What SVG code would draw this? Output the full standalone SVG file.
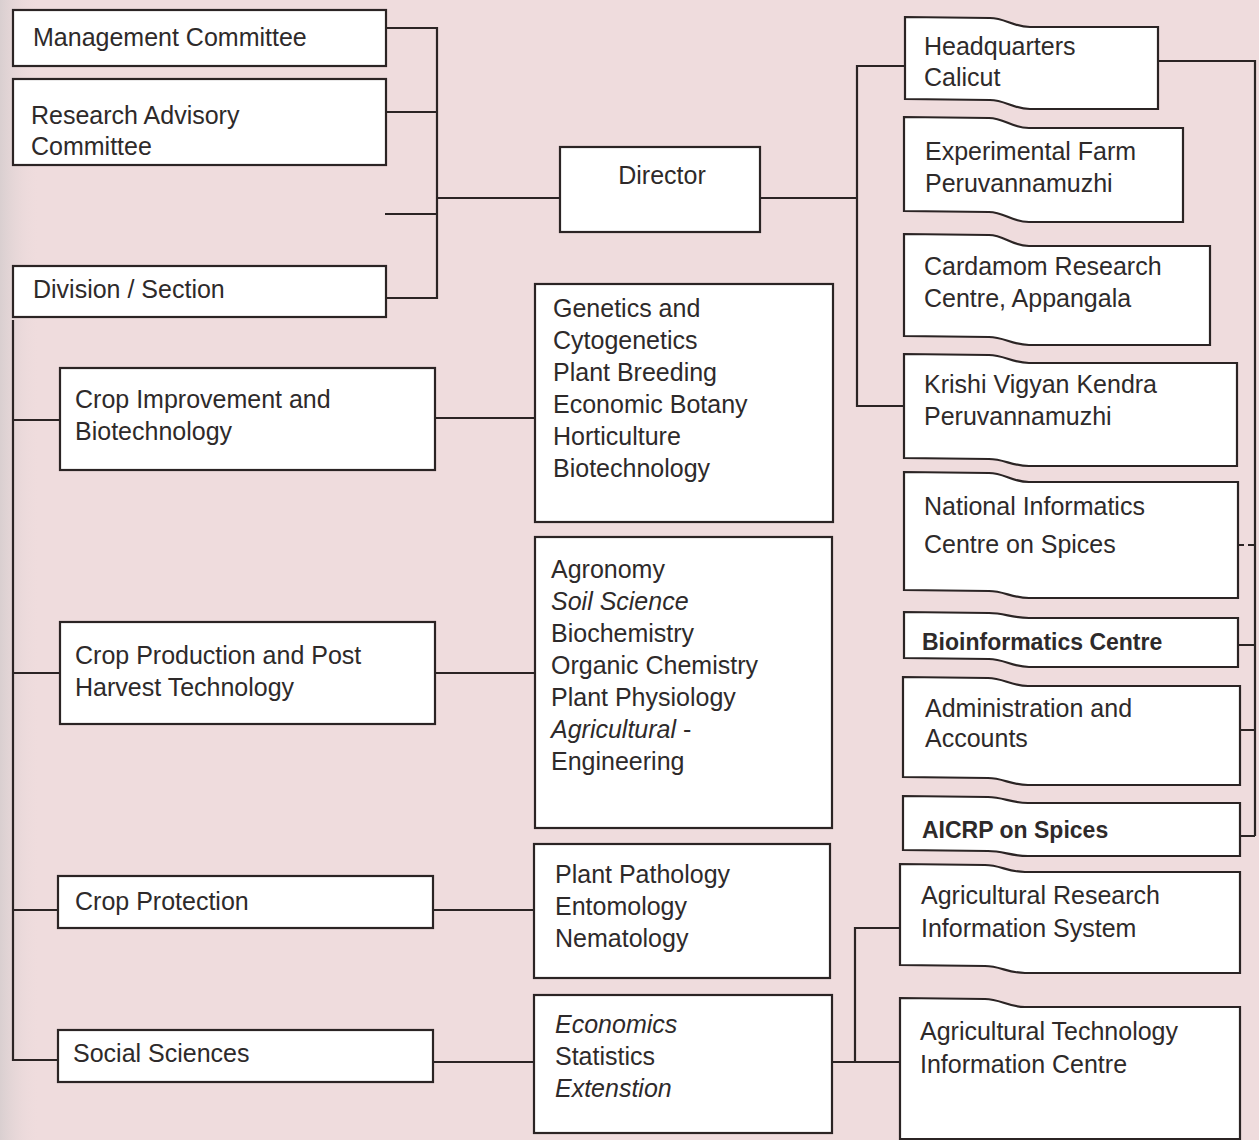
<svg xmlns="http://www.w3.org/2000/svg" width="1259" height="1140" viewBox="0 0 1259 1140">
<defs>
<linearGradient id="edge" x1="0" x2="1" y1="0" y2="0">
<stop offset="0" stop-color="#d9cfd0"/>
<stop offset="1" stop-color="#efdcdd" stop-opacity="0"/>
</linearGradient>
</defs>
<style>
.box{fill:#ffffff;stroke:#2b2424;stroke-width:2.2}
.ln{fill:none;stroke:#2b2424;stroke-width:2.2}
.dash{fill:none;stroke:#2b2424;stroke-width:2.2;stroke-dasharray:6 4}
text{font-family:"Liberation Sans",Arial,sans-serif;font-size:25px;fill:#2e2a2a}
.it{font-style:italic}
.b{font-weight:bold;font-size:23px}
</style>
<rect x="0" y="0" width="1259" height="1140" fill="#efdcdd"/>
<rect x="0" y="0" width="40" height="1140" fill="url(#edge)"/>

<g id="connectors">
<path class="ln" d="M386,28 H437 V298 H386 M386,112 H437 M385,214 H437 M437,198 H560"/>
<path class="ln" d="M760,198 H857 M905,66 H857 V406 H904"/>
<path class="ln" d="M1158,61 H1255 V836 M1238,645 H1255 M1240,730 H1255 M1240,836 H1255"/>
<path class="dash" d="M1238,545 H1255"/>
<path class="ln" d="M13,320 V1060 H58 M13,420 H60 M13,673 H60 M13,910 H58"/>
<path class="ln" d="M435,418 H535 M435,673 H535 M433,910 H534 M433,1062 H534"/>
<path class="ln" d="M832,1062 H900 M855,1062 V928 H900"/>
</g>

<g id="n-management">
<rect class="box" x="13" y="10" width="373" height="56"/>
<text x="33" y="46">Management Committee</text>
</g>
<g id="n-rac">
<rect class="box" x="13" y="79" width="373" height="86"/>
<text x="31" y="124">Research Advisory</text>
<text x="31" y="155">Committee</text>
</g>
<g id="n-division">
<rect class="box" x="13" y="266" width="373" height="51"/>
<text x="33" y="298">Division / Section</text>
</g>
<g id="n-director">
<rect class="box" x="560" y="147" width="200" height="85"/>
<text x="662" y="184" text-anchor="middle">Director</text>
</g>

<g id="n-cropimp">
<rect class="box" x="60" y="368" width="375" height="102"/>
<text x="75" y="408">Crop Improvement and</text>
<text x="75" y="440">Biotechnology</text>
</g>
<g id="n-cropprod">
<rect class="box" x="60" y="622" width="375" height="102"/>
<text x="75" y="664">Crop Production and Post</text>
<text x="75" y="696">Harvest Technology</text>
</g>
<g id="n-cropprot">
<rect class="box" x="58" y="876" width="375" height="52"/>
<text x="75" y="910">Crop Protection</text>
</g>
<g id="n-social">
<rect class="box" x="58" y="1030" width="375" height="52"/>
<text x="73" y="1062">Social Sciences</text>
</g>

<g id="n-genetics">
<rect class="box" x="535" y="284" width="298" height="238"/>
<text x="553" y="317">Genetics and</text>
<text x="553" y="349">Cytogenetics</text>
<text x="553" y="381">Plant Breeding</text>
<text x="553" y="413">Economic Botany</text>
<text x="553" y="445">Horticulture</text>
<text x="553" y="477">Biotechnology</text>
</g>
<g id="n-agronomy">
<rect class="box" x="535" y="537" width="297" height="291"/>
<text x="551" y="578">Agronomy</text>
<text x="551" y="610" class="it">Soil Science</text>
<text x="551" y="642">Biochemistry</text>
<text x="551" y="674">Organic Chemistry</text>
<text x="551" y="706">Plant Physiology</text>
<text x="551" y="738"><tspan class="it">Agricultural</tspan> -</text>
<text x="551" y="770">Engineering</text>
</g>
<g id="n-pathology">
<rect class="box" x="534" y="844" width="296" height="134"/>
<text x="555" y="883">Plant Pathology</text>
<text x="555" y="915">Entomology</text>
<text x="555" y="947">Nematology</text>
</g>
<g id="n-economics">
<rect class="box" x="534" y="995" width="298" height="138"/>
<text x="555" y="1033" class="it">Economics</text>
<text x="555" y="1065">Statistics</text>
<text x="555" y="1097" class="it">Extenstion</text>
</g>

<g id="n-hq">
<path class="box" d="M905,17 L990,18 C1005,18 1013,27 1030,27 L1158,27 L1158,109 L1030,109 C1013,109 1005,100 990,100 L905,99 Z"/>
<text x="924" y="55">Headquarters</text>
<text x="924" y="86">Calicut</text>
</g>
<g id="n-expfarm">
<path class="box" d="M904,117 L989,118 C1004,118 1012,128 1029,128 L1183,128 L1183,222 L1029,222 C1012,222 1004,212 989,212 L904,211 Z"/>
<text x="925" y="160">Experimental Farm</text>
<text x="925" y="192">Peruvannamuzhi</text>
</g>
<g id="n-cardamom">
<path class="box" d="M904,234 L989,235 C1004,235 1012,246 1029,246 L1210,246 L1210,345 L1029,345 C1012,345 1004,337 989,337 L904,336 Z"/>
<text x="924" y="275">Cardamom Research</text>
<text x="924" y="307">Centre, Appangala</text>
</g>
<g id="n-krishi">
<path class="box" d="M904,354 L989,355 C1004,355 1012,363 1029,363 L1237,363 L1237,466 L1029,466 C1012,466 1004,459 989,459 L904,458 Z"/>
<text x="924" y="393">Krishi Vigyan Kendra</text>
<text x="924" y="425">Peruvannamuzhi</text>
</g>
<g id="n-nic">
<path class="box" d="M904,472 L989,473 C1004,473 1012,482 1029,482 L1238,482 L1238,598 L1029,598 C1012,598 1004,591 989,591 L904,590 Z"/>
<text x="924" y="515">National Informatics</text>
<text x="924" y="553">Centre on Spices</text>
</g>
<g id="n-bio">
<path class="box" d="M904,612 L989,613 C1004,613 1012,618 1029,618 L1238,618 L1238,667 L1029,667 C1012,667 1004,659 989,659 L904,658 Z"/>
<text x="922" y="650" class="b">Bioinformatics Centre</text>
</g>
<g id="n-admin">
<path class="box" d="M903,677 L988,678 C1003,678 1011,686 1028,686 L1240,686 L1240,785 L1028,785 C1011,785 1003,778 988,778 L903,777 Z"/>
<text x="925" y="717">Administration and</text>
<text x="925" y="747">Accounts</text>
</g>
<g id="n-aicrp">
<path class="box" d="M903,796 L988,797 C1003,797 1011,803 1028,803 L1240,803 L1240,856 L1028,856 C1011,856 1003,851 988,851 L903,850 Z"/>
<text x="922" y="838" class="b">AICRP on Spices</text>
</g>
<g id="n-aris">
<path class="box" d="M900,864 L985,865 C1000,865 1008,872 1025,872 L1240,872 L1240,973 L1025,973 C1008,973 1000,966 985,966 L900,965 Z"/>
<text x="921" y="904">Agricultural Research</text>
<text x="921" y="937">Information System</text>
</g>
<g id="n-atic">
<path class="box" d="M900,998 L985,999 C1000,999 1008,1007 1025,1007 L1240,1007 L1240,1139 L900,1139 Z"/>
<text x="920" y="1040">Agricultural Technology</text>
<text x="920" y="1073">Information Centre</text>
</g>
</svg>
